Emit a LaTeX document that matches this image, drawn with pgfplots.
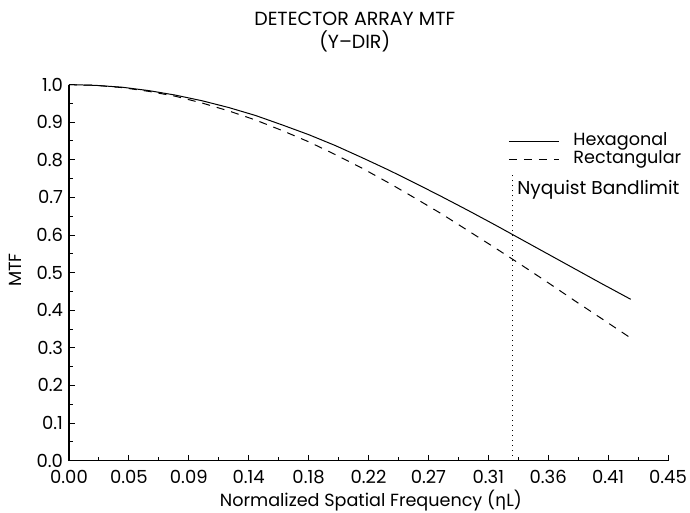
\documentclass[border=0pt]{standalone}
\usepackage{fontspec}
\setmainfont{Poppins}
\newfontfamily\greekfont{DejaVu Sans}
\usepackage{pgfplots}
\pgfplotsset{compat=1.18}

\begin{document}
\begin{tikzpicture}
% page frame: 690x513 px at 0.5bp per px, axis box lower-left at (0,0)
\path[use as bounding box] (-34.5bp,-26.2bp) rectangle (310.5bp,230.3bp);
\begin{axis}[
  scale only axis,
  width=299.5bp, height=188bp,
  xmin=0, xmax=0.45, ymin=0, ymax=1.0,
  axis x line=bottom, axis y line=left,
  axis line style={-, line width=0.6bp},
  xtick={0,0.045,0.09,0.135,0.18,0.225,0.27,0.315,0.36,0.405,0.45},
  xticklabels={0.00,0.05,0.09,0.14,0.18,0.22,0.27,0.31,0.36,0.41,0.45},
  ytick={0,0.1,...,1.0},
  yticklabel style={xshift=0.5bp, /pgf/number format/fixed, /pgf/number format/fixed zerofill,
    /pgf/number format/precision=1, /pgf/number format/assume math mode=true},
  minor x tick num=1, minor y tick num=1,
  tick align=inside,
  major tick length=2.8bp, minor tick length=2bp,
  tick style={line width=0.5bp, black},
  tick label style={font=\fontsize{9bp}{10bp}\selectfont},
  xticklabel style={yshift=-1.5bp},
  xlabel={Normalized Spatial Frequency ({\greekfont η}L)},
  xlabel style={font=\fontsize{8.8bp}{10bp}\selectfont, at={(axis description cs:0.504,0)}, anchor=north, yshift=-11bp},
  legend style={draw=none, fill=none, font=\fontsize{8.8bp}{10bp}\selectfont,
    at={(rel axis cs:0.733,0.873)}, anchor=north west, inner sep=0pt, row sep=0pt,
    nodes={inner sep=0.5pt, text height=6bp, text depth=1.8bp},
    /tikz/every odd column/.append style={column sep=6.5bp}},
  legend cell align=left,
  legend image code/.code={\draw[#1] (0bp,0bp) -- (25bp,0bp);},
  clip=false,
]
\addplot[black, line width=0.5bp] coordinates {
  (0.00,1.000) (0.02,0.998) (0.04,0.993) (0.06,0.984) (0.08,0.972)
  (0.10,0.957) (0.12,0.939) (0.14,0.918) (0.16,0.893) (0.18,0.867)
  (0.20,0.838) (0.22,0.806) (0.24,0.773) (0.26,0.738) (0.28,0.702)
  (0.30,0.665) (0.32,0.627) (0.34,0.588) (0.36,0.549) (0.38,0.510)
  (0.40,0.471) (0.422,0.429)
};
\addlegendentry{Hexagonal}
\addplot[black, line width=0.5bp, dash pattern=on 4bp off 3.5bp] coordinates {
  (0.00,1.000) (0.02,0.998) (0.04,0.992) (0.06,0.982) (0.08,0.969)
  (0.10,0.951) (0.12,0.930) (0.14,0.906) (0.16,0.878) (0.18,0.848)
  (0.20,0.814) (0.22,0.778) (0.24,0.739) (0.26,0.698) (0.28,0.656)
  (0.30,0.611) (0.32,0.566) (0.34,0.520) (0.36,0.473) (0.38,0.425)
  (0.40,0.378) (0.422,0.326)
};
\addlegendentry{Rectangular}
% Nyquist bandlimit
\addplot[black, line width=0.5bp, dotted, forget plot] coordinates {(0.3335,0) (0.3335,0.76)};
\node[anchor=west, font=\fontsize{9.3bp}{10bp}\selectfont, inner sep=0pt] at (axis cs:0.3365,0.72) {Nyquist Bandlimit};
% y label
\node[rotate=90, font=\fontsize{8.8bp}{10bp}\selectfont, inner sep=0pt] at (rel axis cs:-0.09,0.507) {MTF};
% title
\node[align=center, font=\fontsize{9.5bp}{11.5bp}\selectfont, anchor=north, inner sep=0pt]
  at (rel axis cs:0.477,1.195) {DETECTOR ARRAY MTF\\(Y--DIR)};
\end{axis}
\end{tikzpicture}
\end{document}
